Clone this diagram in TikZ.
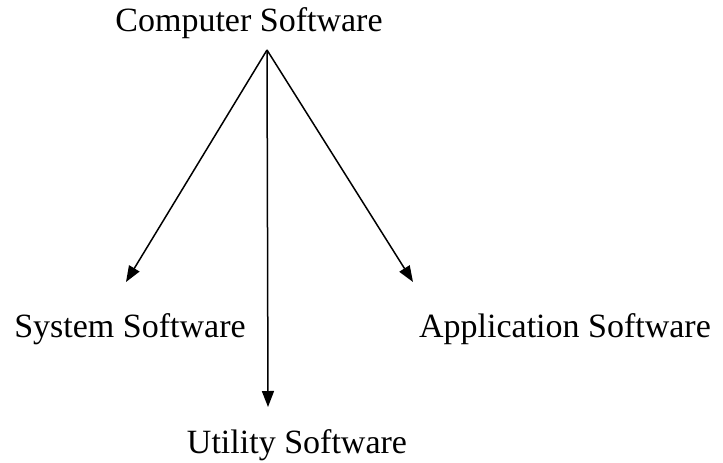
\documentclass[tikz,border=0pt]{standalone}
\usepackage{fontspec}
\setmainfont{Liberation Serif}
\usetikzlibrary{positioning, arrows.meta}

\begin{document}
\begin{tikzpicture}[
    x=1pt, y=-1pt,
    label/.style={font=\fontsize{34}{40}\selectfont, anchor=base, inner sep=0pt},
    arrow/.style={-{Triangle[length=16pt, width=12pt]}, line width=1.5pt}
]
    \useasboundingbox (0, 0) rectangle (723, 463);

    % Title
    \node[label] (computer) at (249, 31) {Computer Software};

    % === Branches ===
    \node[label] (system) at (130, 337) {System Software};
    \node[label] (application) at (565, 337) {Application Software};
    \node[label] (utility) at (297, 453) {Utility Software};

    % Arrow ends
    \coordinate (apex) at (267, 50);
    \coordinate (systemtip) at (126, 282);
    \coordinate (utilitytip) at (268, 407);
    \coordinate (applicationtip) at (413, 282);

    % Arrows
    \draw[arrow] (apex) -- (systemtip);
    \draw[arrow] (apex) -- (utilitytip);
    \draw[arrow] (apex) -- (applicationtip);

\end{tikzpicture}
\end{document}
